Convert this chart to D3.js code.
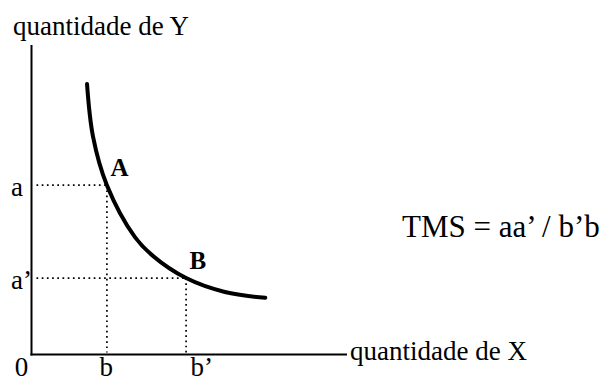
<!DOCTYPE html>
<html>
<head>
<meta charset="utf-8">
<script src="https://cdn.jsdelivr.net/npm/d3@7"></script>
<style>
  html, body { margin: 0; padding: 0; background: #fff; }
  svg { display: block; }
  text { font-family: "Liberation Serif", "Times New Roman", serif; fill: #000; }
</style>
</head>
<body>
<svg id="chart" width="607" height="382"></svg>
<script>
// Indifference curve: quantity of X against quantity of Y
const curveX = [17.6, 19.5, 23.9, 32.8, 38.2, 49.0, 61.3, 74.1];
const curveY = [87.4, 70.4, 54.7, 37.9, 32.1, 24.7, 20.2, 18.3];

// The two marked points on the curve
const pointNames = ["A", "B"];
const pointX = [23.9, 49.0];
const pointY = [54.7, 24.7];

// Axis labels
const yTickLabels = ["a", "a’"];
const xTickLabels = ["b", "b’"];
const xAxisTitle = "quantidade de X";
const yAxisTitle = "quantidade de Y";
const formula = "TMS = aa’ / b’b";

const svg = d3.select("#chart");

const x = d3.scaleLinear().domain([0, 100]).range([31.5, 347]);
const y = d3.scaleLinear().domain([0, 100]).range([354.5, 45]);

// Axes
svg.append("line")
  .attr("x1", x(0)).attr("x2", x(0))
  .attr("y1", y(0) + 1).attr("y2", y(100))
  .attr("stroke", "#000").attr("stroke-width", 2);
svg.append("line")
  .attr("x1", x(0) - 1).attr("x2", x(100))
  .attr("y1", y(0)).attr("y2", y(0))
  .attr("stroke", "#000").attr("stroke-width", 2);

// Dotted guide lines from each point to the axes
const pts = pointNames.map((n, i) => ({ name: n, x: pointX[i], y: pointY[i], yl: yTickLabels[i], xl: xTickLabels[i] }));

svg.selectAll("line.hguide").data(pts).enter().append("line")
  .attr("class", "hguide")
  .attr("x1", x(0) + 5).attr("x2", d => x(d.x))
  .attr("y1", d => y(d.y)).attr("y2", d => y(d.y))
  .attr("stroke", "#000").attr("stroke-width", 1.7)
  .attr("stroke-dasharray", "1.7 3.5");

svg.selectAll("line.vguide").data(pts).enter().append("line")
  .attr("class", "vguide")
  .attr("x1", d => x(d.x)).attr("x2", d => x(d.x))
  .attr("y1", d => y(d.y)).attr("y2", y(0) - 2)
  .attr("stroke", "#000").attr("stroke-width", 1.7)
  .attr("stroke-dasharray", "1.7 3.5");

// The curve
const line = d3.line()
  .x((d, i) => x(curveX[i]))
  .y((d, i) => y(curveY[i]))
  .curve(d3.curveCatmullRom.alpha(0.5));

svg.append("path")
  .datum(curveX)
  .attr("d", line)
  .attr("fill", "none")
  .attr("stroke", "#000")
  .attr("stroke-width", 4)
  .attr("stroke-linecap", "round");

// Point names
svg.selectAll("text.pname").data(pts).enter().append("text")
  .attr("class", "pname")
  .attr("x", d => x(d.x) + 3.5)
  .attr("y", d => y(d.y) - 9)
  .attr("font-size", 25)
  .attr("font-weight", "bold")
  .text(d => d.name);

// Y tick labels
svg.selectAll("text.ytick").data(pts).enter().append("text")
  .attr("class", "ytick")
  .attr("x", 11)
  .attr("y", d => y(d.y) + 10.5)
  .attr("font-size", 27)
  .text(d => d.yl);

// X tick labels, including the origin
svg.append("text")
  .attr("x", x(0) - 10).attr("y", 376)
  .attr("text-anchor", "middle")
  .attr("font-size", 27)
  .text("0");

svg.selectAll("text.xtick").data(pts).enter().append("text")
  .attr("class", "xtick")
  .attr("x", (d, i) => i === 0 ? x(d.x) - 7.5 : x(d.x) + 4.5)
  .attr("y", 376)
  .attr("font-size", 27)
  .text(d => d.xl);

// Axis titles
svg.append("text")
  .attr("x", 13).attr("y", 35)
  .attr("font-size", 27)
  .text(yAxisTitle);

svg.append("text")
  .attr("x", 350).attr("y", 360)
  .attr("font-size", 27)
  .text(xAxisTitle);

// Marginal rate of substitution formula
svg.append("text")
  .attr("x", 402).attr("y", 237)
  .attr("font-size", 31)
  .text(formula);
</script>
</body>
</html>
